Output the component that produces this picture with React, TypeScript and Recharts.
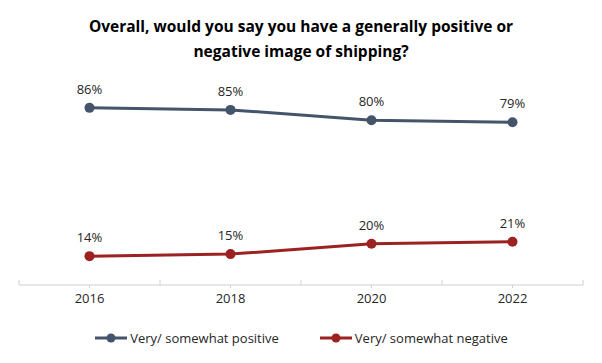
import React from 'react';
import { LineChart, Line, XAxis, YAxis, LabelList } from 'recharts';

const years = ['2016', '2018', '2020', '2022'];
const positive = [86, 85, 80, 79];
const negative = [14, 15, 20, 21];
const seriesNames = ['Very/ somewhat positive', 'Very/ somewhat negative'];
const titleLines = [
  'Overall, would you say you have a generally positive or',
  'negative image of shipping?',
];

const data = years.map((y, i) => ({ year: y, pos: positive[i], neg: negative[i] }));

const W = 602;
const H = 363;
const M = { top: 79, right: 19, left: 19, bottom: 48 };
const halfBand = (W - M.left - M.right) / years.length / 2;
const FONT = 'Open Sans, Noto Sans, sans-serif';
const POS_COLOR = '#44546A';
const NEG_COLOR = '#9C2222';
const AXIS_COLOR = '#D0D0D0';

const Tick = (props: any) => {
  const { x, y, payload, index, visibleTicksCount } = props;
  const axisY = y - 8;
  return (
    <g>
      <line x1={x} x2={x} y1={axisY} y2={axisY + 3} stroke={AXIS_COLOR} />
      <line x1={x - halfBand} x2={x - halfBand} y1={axisY - 5} y2={axisY} stroke={AXIS_COLOR} />
      {index === visibleTicksCount - 1 && (
        <line x1={x + halfBand} x2={x + halfBand} y1={axisY - 5} y2={axisY} stroke={AXIS_COLOR} />
      )}
      <text x={x} y={axisY + 18} textAnchor="middle" fill="#262626" fontSize={13} fontFamily={FONT}>
        {payload.value}
      </text>
    </g>
  );
};

const LegendContent = () => {
  const items = [
    { name: seriesNames[0], color: POS_COLOR },
    { name: seriesNames[1], color: NEG_COLOR },
  ];
  return (
    <div style={{ display: 'flex', justifyContent: 'center', gap: 40, fontFamily: FONT, fontSize: 13, color: '#262626' }}>
      {items.map((it) => (
        <div key={it.name} style={{ display: 'flex', alignItems: 'center' }}>
          <svg width={34} height={12} style={{ marginRight: 2 }}>
            <line x1={1} x2={33} y1={6} y2={6} stroke={it.color} strokeWidth={3} />
            <circle cx={17} cy={6} r={4.5} fill={it.color} />
          </svg>
          <span>{it.name}</span>
        </div>
      ))}
    </div>
  );
};

export default function App() {
  return (
    <div style={{ position: 'absolute', left: 0, top: 0, width: W, height: H, background: '#fff' }}>
      <div
        style={{
          position: 'absolute',
          top: 14,
          left: 0,
          width: W,
          textAlign: 'center',
          fontFamily: FONT,
          fontWeight: 700,
          fontSize: 15.5,
          lineHeight: '25px',
          color: '#000',
        }}
      >
        {titleLines.map((t) => (
          <div key={t}>{t}</div>
        ))}
      </div>
      <LineChart width={W} height={H} data={data} margin={M}>
        <YAxis hide domain={[0, 100]} />
        <XAxis
          dataKey="year"
          padding={{ left: halfBand, right: halfBand }}
          stroke={AXIS_COLOR}
          tickLine={false}
          tick={<Tick />}
          interval={0}
          height={30}
        />
        <Line
          dataKey="pos"
          name={seriesNames[0]}
          stroke={POS_COLOR}
          strokeWidth={3}
          dot={{ r: 5, fill: POS_COLOR, stroke: POS_COLOR, strokeWidth: 0 }}
          isAnimationActive={false}
        >
          <LabelList dataKey="pos" position="top" offset={14} formatter={(v: any) => `${v}%`} fill="#262626" fontSize={13} fontFamily={FONT} />
        </Line>
        <Line
          dataKey="neg"
          name={seriesNames[1]}
          stroke={NEG_COLOR}
          strokeWidth={3}
          dot={{ r: 5, fill: NEG_COLOR, stroke: NEG_COLOR, strokeWidth: 0 }}
          isAnimationActive={false}
        >
          <LabelList dataKey="neg" position="top" offset={14} formatter={(v: any) => `${v}%`} fill="#262626" fontSize={13} fontFamily={FONT} />
        </Line>
      </LineChart>
      <div style={{ position: 'absolute', left: 0, top: 329, width: W }}>
        <LegendContent />
      </div>
    </div>
  );
}
